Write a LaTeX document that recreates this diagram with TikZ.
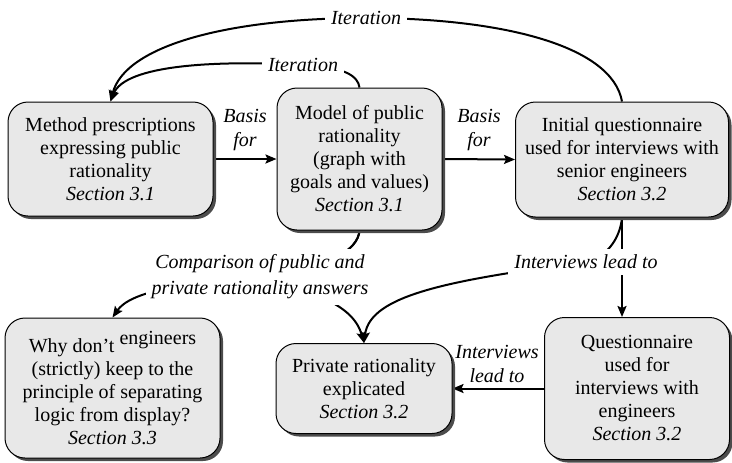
\documentclass[tikz,border=0pt]{standalone}
\usepackage{fontspec}
\setmainfont{Liberation Serif}
\usepackage{tikz}
\usetikzlibrary{arrows.meta,shadows,backgrounds}

\tikzset{
  stepbox/.style={draw=black,line width=0.5pt,fill=black!9,rounded corners=10pt,
    align=center,inner sep=0pt,font=\fontsize{10}{11.5}\selectfont,
    drop shadow={shadow xshift=1.5pt,shadow yshift=-1.5pt,fill=black!70,opacity=1}},
  lbl/.style={font=\fontsize{10}{12}\selectfont\itshape,align=center,inner sep=1pt},
  lblw/.style={lbl,fill=white,inner sep=3pt},
  conn/.style={->,line width=1pt},
}

\begin{document}
\begin{tikzpicture}[x=0.5pt,y=-0.5pt,>={Stealth[length=5.5pt,width=4.5pt,inset=1pt]}]
\useasboundingbox (0,0) rectangle (732,462);
\node[stepbox,minimum width=102.5pt,minimum height=57pt] (meth) at (110.5,159)
  {Method prescriptions\\expressing public\\rationality\\\textit{Section 3.1}};
\node[stepbox,minimum width=82.5pt,minimum height=71pt] (model) at (359.5,159)
  {Model of public\\rationality\\(graph with\\goals and values)\\\textit{Section 3.1}};
\node[stepbox,minimum width=106.5pt,minimum height=57.5pt] (initq) at (622,159.5)
  {Initial questionnaire\\used for interviews with\\senior engineers\\\textit{Section 3.2}};
\node[stepbox,minimum width=107.5pt,minimum height=70pt] (why) at (112.5,388)
  {Why don’t \raisebox{4pt}{engineers}\\(strictly) keep to the\\principle of separating\\logic from display?\\\textit{Section 3.3}};
\node[stepbox,minimum width=88pt,minimum height=45pt] (priv) at (364,388.5)
  {Private rationality\\explicated\\\textit{Section 3.2}};
\node[stepbox,minimum width=92.5pt,minimum height=71pt] (quest) at (637,388.5)
  {Questionnaire\\used for\\interviews with\\engineers\\\textit{Section 3.2}};
\node[lbl] (basisA) at (245,130) {Basis\\for};
\node[lbl] (basisB) at (479,130) {Basis\\for};
\node[lblw] (iterA) at (366,18) {Iteration};
\node[lblw] (iterB) at (303,65) {Iteration};
\node[lblw,font=\fontsize{10}{13}\selectfont\itshape] (comp) at (260,277)
  {Comparison of public and\\private rationality answers};
\node[lblw] (intA) at (586,262) {Interviews lead to};
\node[lbl] (intB) at (497,363.5) {Interviews\\lead to};
\begin{scope}[on background layer]
\draw[conn] (meth.east) -- (model.west);
\draw[conn] (model.east) -- (initq.west);
\draw[conn] (initq.north) .. controls (612,45) and (500,18) .. (iterA.center)
  .. controls (230,18) and (125,45) .. (meth.north);
\draw[conn] (model.north) .. controls (358,76) and (345,67) .. (iterB.center)
  .. controls (215,60) and (125,65) .. (meth.north);
\draw[conn] (model.south) .. controls (358,250) and (330,268) .. (comp.center)
  .. controls (180,283) and (130,292) .. (why.north);
\draw[conn] (model.south) .. controls (358,250) and (330,268) .. (comp.center)
  .. controls (300,290) and (352,300) .. (priv.north);
\draw[conn] (initq.south) .. controls (620,240) and (605,258) .. (intA.center)
  .. controls (450,280) and (370,295) .. (priv.north);
\draw[conn] (initq.south) -- (initq.south |- quest.north);
\draw[conn] (quest.west) -- (priv.east);
\end{scope}
\end{tikzpicture}
\end{document}
